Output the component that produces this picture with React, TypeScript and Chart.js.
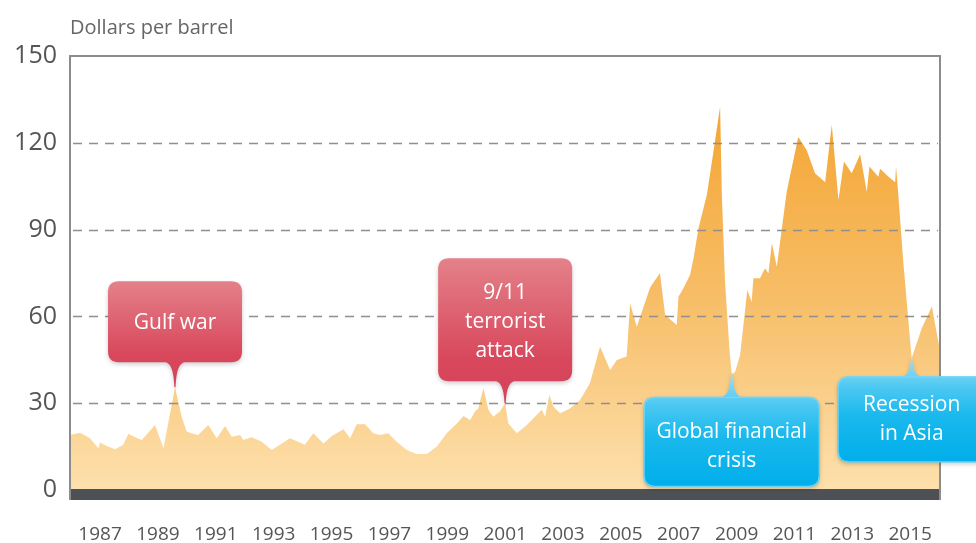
import React, { useEffect, useRef } from "react";
import { Chart, registerables } from "chart.js";

Chart.register(...registerables);

// Year positions (as placed along the picture's time axis) and prices, dollars per barrel
const years: number[] = [
  1985.96, 1986.31, 1986.65, 1986.94, 1987.0, 1987.23, 1987.52, 1987.8, 1987.98, 1988.21,
  1988.44, 1988.9, 1989.19, 1989.59, 1989.82, 1989.99, 1990.22, 1990.39, 1990.74, 1991.03,
  1991.32, 1991.55, 1991.84, 1991.95, 1992.24, 1992.59, 1992.93, 1993.28, 1993.56, 1994.08,
  1994.37, 1994.72, 1995.01, 1995.41, 1995.64, 1995.87, 1996.16, 1996.44, 1996.68, 1996.96,
  1997.25, 1997.6, 1997.94, 1998.29, 1998.64, 1998.98, 1999.33, 1999.56, 1999.79, 1999.96,
  2000.07, 2000.25, 2000.42, 2000.59, 2000.82, 2001.0, 2001.11, 2001.4, 2001.75, 2002.03,
  2002.27, 2002.38, 2002.53, 2002.67, 2002.9, 2003.24, 2003.59, 2003.93, 2004.28, 2004.63,
  2004.86, 2005.2, 2005.32, 2005.55, 2006.01, 2006.35, 2006.53, 2006.93, 2006.99, 2007.16,
  2007.39, 2007.51, 2007.68, 2007.97, 2008.2, 2008.43, 2008.49, 2008.6, 2008.75, 2008.83,
  2008.95, 2009.12, 2009.37, 2009.52, 2009.58, 2009.81, 2009.98, 2010.1, 2010.22, 2010.39,
  2010.73, 2011.13, 2011.42, 2011.71, 2012.06, 2012.29, 2012.52, 2012.71, 2012.98, 2013.27,
  2013.5, 2013.59, 2013.9, 2013.96, 2014.25, 2014.48, 2014.51, 2014.59, 2014.76, 2015.05,
  2015.4, 2015.75, 2015.97, 2016.03,
];

const prices: number[] = [
  19.0, 19.8, 17.9, 14.4, 16.4, 15.2, 14.1, 15.6, 19.4, 18.2,
  17.3, 22.5, 14.4, 35.5, 25.3, 20.2, 19.4, 19.0, 22.5, 17.9,
  22.1, 18.4, 19.0, 17.3, 18.2, 16.7, 13.8, 16.1, 17.9, 15.6,
  19.6, 16.1, 18.7, 21.0, 17.9, 22.7, 22.7, 19.6, 19.0, 19.6,
  16.7, 13.8, 12.4, 12.4, 15.0, 19.6, 23.0, 25.6, 24.2, 27.1,
  28.2, 35.2, 27.7, 25.3, 27.1, 30.0, 23.0, 19.6, 22.5, 25.3,
  27.7, 25.3, 32.8, 28.8, 26.5, 28.2, 31.1, 36.9, 49.5, 41.5,
  44.9, 46.1, 64.5, 56.4, 70.0, 75.0, 60.5, 57.0, 66.8, 69.7,
  74.3, 80.0, 90.4, 102.0, 117.0, 132.5, 102.0, 72.0, 49.0, 39.8,
  40.9, 46.7, 69.1, 65.0, 73.2, 73.2, 76.6, 74.9, 85.3, 77.2,
  103.0, 122.0, 117.5, 109.5, 106.4, 126.2, 100.2, 113.5, 109.5, 116.0,
  103.0, 111.8, 108.3, 111.0, 108.3, 106.4, 111.8, 102.0, 79.0, 45.5,
  55.9, 63.4, 51.3, 49.0,
];

const tickYears: number[] = [1987, 1989, 1991, 1993, 1995, 1997, 1999, 2001, 2003, 2005, 2007, 2009, 2011, 2013, 2015];
const yTicks: number[] = [0, 30, 60, 90, 120, 150];

const unitLabel = "Dollars per barrel";

// Event callouts: anchor (year, value) and text
const eventYears: number[] = [1989.59, 2001.0, 2008.83, 2015.05];
const eventValues: number[] = [35.5, 30.0, 40.5, 45.5];
const eventTexts: string[][] = [["Gulf war"], ["9/11", "terrorist", "attack"], ["Global financial", "crisis"], ["Recession", "in Asia"]];
const eventKinds: string[] = ["red", "red", "blue", "blue"];

// Callout styling (box sizes / gaps)
const calloutStyle = [
  { w: 134, h: 81, gap: 25, textDy: 1 },
  { w: 134, h: 123, gap: 22, textDy: 2 },
  { w: 176, h: 90, gap: 24, textDy: 5 },
  { w: 148, h: 86, gap: 18, textDy: 0 },
];

function roundRect(ctx: CanvasRenderingContext2D, x: number, y: number, w: number, h: number, r: number) {
  ctx.moveTo(x + r, y);
  ctx.lineTo(x + w - r, y);
  ctx.quadraticCurveTo(x + w, y, x + w, y + r);
  ctx.lineTo(x + w, y + h - r);
  ctx.quadraticCurveTo(x + w, y + h, x + w - r, y + h);
  ctx.lineTo(x + r, y + h);
  ctx.quadraticCurveTo(x, y + h, x, y + h - r);
  ctx.lineTo(x, y + r);
  ctx.quadraticCurveTo(x, y, x + r, y);
}

// s chooses the winding so the pointer merges with the (clockwise) box
function pointer(ctx: CanvasRenderingContext2D, tx: number, b: number, ty: number, half: number, s: number) {
  const d = ty - b;
  ctx.moveTo(tx - s * half, b);
  ctx.bezierCurveTo(tx - s * half * 0.25, b, tx - s * 1.5, b + d * 0.35, tx - s * 0.6, ty);
  ctx.lineTo(tx + s * 0.6, ty);
  ctx.bezierCurveTo(tx + s * 1.5, b + d * 0.35, tx + s * half * 0.25, b, tx + s * half, b);
  ctx.closePath();
}

const decorPlugin = {
  id: "decor",
  afterDatasetsDraw(chart: any) {
    const { ctx, chartArea, scales } = chart;
    const xs = scales.x;
    const ys = scales.y;
    ctx.save();
    // dashed gridlines over the area
    ctx.strokeStyle = "#8f8f8f";
    ctx.lineWidth = 1.5;
    ctx.setLineDash([9, 7]);
    for (const v of [30, 60, 90, 120]) {
      const y = Math.round(ys.getPixelForValue(v)) + 0.5;
      ctx.beginPath();
      ctx.moveTo(chartArea.left + 3, y);
      ctx.lineTo(chartArea.right - 2, y);
      ctx.stroke();
    }
    ctx.setLineDash([]);
    // dark base band
    ctx.fillStyle = "#4d5054";
    ctx.fillRect(chartArea.left, chartArea.bottom - 1, chartArea.right - chartArea.left, 11);
    // frame
    ctx.strokeStyle = "#8c8c8c";
    ctx.lineWidth = 2;
    ctx.beginPath();
    ctx.moveTo(chartArea.left, chartArea.bottom + 10);
    ctx.lineTo(chartArea.left, chartArea.top);
    ctx.lineTo(chartArea.right, chartArea.top);
    ctx.lineTo(chartArea.right, chartArea.bottom + 10);
    ctx.stroke();
    // unit label
    ctx.fillStyle = "#666666";
    ctx.font = "20px 'Open Sans'";
    ctx.textAlign = "left";
    ctx.textBaseline = "middle";
    ctx.fillText(unitLabel, chartArea.left, 28);

    // callouts
    for (let i = 0; i < eventYears.length; i++) {
      const tx = xs.getPixelForValue(eventYears[i]);
      const ty = ys.getPixelForValue(eventValues[i]);
      const st = calloutStyle[i];
      const red = eventKinds[i] === "red";
      const bx = tx - st.w / 2;
      const by = red ? ty - st.gap - st.h : ty + st.gap;
      const grad = ctx.createLinearGradient(0, red ? by : ty, 0, red ? ty : by + st.h);
      if (red) {
        grad.addColorStop(0, "#e48189");
        grad.addColorStop(0.7, "#d8475c");
        grad.addColorStop(1, "#d4435a");
      } else {
        grad.addColorStop(0, "#9fdff6");
        grad.addColorStop(0.28, "#4cc8f2");
        grad.addColorStop(0.55, "#1ab9ed");
        grad.addColorStop(1, "#00aeea");
      }
      ctx.beginPath();
      roundRect(ctx, bx, by, st.w, st.h, 11);
      if (red) pointer(ctx, tx, by + st.h - 1, ty, 14, -1);
      else pointer(ctx, tx, by + 1, ty, 14, 1);
      ctx.save();
      ctx.shadowColor = "rgba(0,0,0,0.2)";
      ctx.shadowBlur = 4;
      ctx.shadowOffsetY = 2;
      ctx.fillStyle = grad;
      ctx.fill();
      ctx.restore();
      if (!red) {
        ctx.strokeStyle = "rgba(120,215,245,0.9)";
        ctx.lineWidth = 1.2;
        ctx.beginPath();
        roundRect(ctx, bx + 0.5, by + 0.5, st.w - 1, st.h - 1, 11);
        ctx.stroke();
      }
      // text
      ctx.fillStyle = "#ffffff";
      ctx.font = "21px 'Open Sans'";
      ctx.textAlign = "center";
      ctx.textBaseline = "middle";
      const lines = eventTexts[i];
      const lh = 29;
      const cy = by + st.h / 2 + st.textDy;
      lines.forEach((ln, k) => {
        ctx.fillText(ln, tx, cy + (k - (lines.length - 1) / 2) * lh);
      });
    }
    ctx.restore();
  },
};

export default function App() {
  const ref = useRef<HTMLCanvasElement | null>(null);
  useEffect(() => {
    document.body.style.margin = "0";
    const canvas = ref.current;
    if (!canvas) return;
    const chart = new Chart(canvas, {
      type: "line",
      data: {
        datasets: [
          {
            label: "Oil price",
            data: years.map((y, i) => ({ x: y, y: prices[i] })),
            borderWidth: 0,
            borderColor: "rgba(0,0,0,0)",
            pointRadius: 0,
            tension: 0,
            fill: "origin",
            backgroundColor: (c: any) => {
              const area = c.chart.chartArea;
              if (!area) return "#f8c87a";
              const g = c.chart.ctx.createLinearGradient(0, area.top, 0, area.bottom);
              g.addColorStop(0, "#f39f26");
              g.addColorStop(0.55, "#f7bd66");
              g.addColorStop(1, "#fde0ad");
              return g;
            },
          },
        ],
      },
      options: {
        animation: false,
        responsive: true,
        maintainAspectRatio: false,
        layout: { padding: { left: 0, top: 56, right: 36, bottom: 0 } },
        plugins: { legend: { display: false }, tooltip: { enabled: false } },
        scales: {
          x: {
            type: "linear",
            min: 1985.96,
            max: 2016.03,
            afterBuildTicks: (s: any) => {
              s.ticks = tickYears.map((v) => ({ value: v }));
            },
            afterFit: (s: any) => {
              s.height = 53;
            },
            grid: { display: false, drawTicks: false },
            border: { display: false },
            ticks: {
              padding: 33,
              maxRotation: 0,
              autoSkip: false,
              color: "#555555",
              font: { family: "'Open Sans'", size: 19 },
              callback: (v: any) => String(v),
            },
          },
          y: {
            min: 0,
            max: 150,
            afterBuildTicks: (s: any) => {
              s.ticks = yTicks.map((v) => ({ value: v }));
            },
            afterFit: (s: any) => {
              s.width = 70;
            },
            grid: { display: false, drawTicks: false },
            border: { display: false },
            ticks: {
              padding: 13,
              color: "#555555",
              font: { family: "'Open Sans'", size: 25 },
              callback: (v: any) => String(v),
            },
          },
        },
      },
      plugins: [decorPlugin],
    } as any);
    return () => chart.destroy();
  }, []);
  return (
    <div style={{ width: 976, height: 543, position: "relative" }}>
      <canvas ref={ref} />
    </div>
  );
}
